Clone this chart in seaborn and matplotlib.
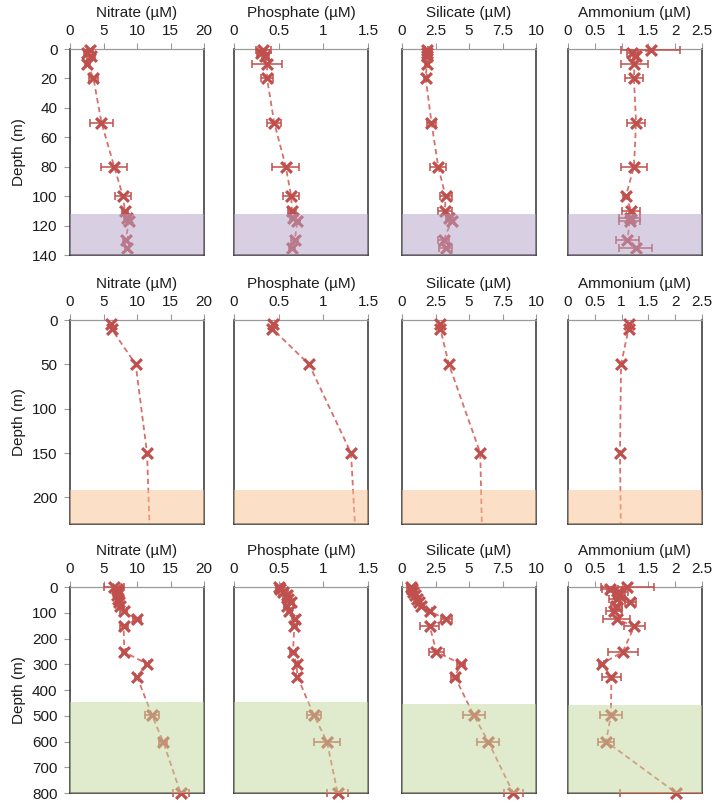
import matplotlib
matplotlib.use("Agg")
import matplotlib.pyplot as plt
from matplotlib.transforms import Bbox, TransformedBbox
import seaborn as sns

# ---------------- data ----------------
NUTRIENTS = ["Nitrate (µM)", "Phosphate (µM)", "Silicate (µM)", "Ammonium (µM)"]
X_MAX = [20, 1.5, 10, 2.5]
X_TICKS = [[0, 5, 10, 15, 20], [0, 0.5, 1, 1.5], [0, 2.5, 5, 7.5, 10],
           [0, 0.5, 1, 1.5, 2, 2.5]]
X_TICKLABELS = [["0", "5", "10", "15", "20"], ["0", "0.5", "1", "1.5"],
                ["0", "2.5", "5", "7.5", "10"], ["0", "0.5", "1", "1.5", "2", "2.5"]]

# Station 1 (top row)
S1_DEPTH = [1, 3, 5, 10, 20, 50, 80, 100, 110, 115, 117, 130, 135]
S1_NITRATE = [3.0, 2.5, 3.2, 2.6, 3.5, 4.7, 6.6, 7.9, 8.2, 8.5, 8.8, 8.3, 8.5]
S1_NITRATE_ERR = [0.5, 0.4, 0.6, 0.4, 0.7, 1.7, 1.9, 1.2, 0.5, 0.4, 0.3, 0.4, 0.3]
S1_PHOSPHATE = [0.33, 0.30, 0.35, 0.37, 0.37, 0.45, 0.58, 0.64, 0.65, 0.66, 0.71, 0.68, 0.65]
S1_PHOSPHATE_ERR = [0.08, 0.04, 0.04, 0.17, 0.07, 0.08, 0.15, 0.09, 0.04, 0.03, 0.03, 0.04, 0.03]
S1_SILICATE = [1.85, 1.9, 1.85, 1.85, 1.77, 2.2, 2.7, 3.25, 3.2, 3.5, 3.7, 3.1, 3.25]
S1_SILICATE_ERR = [0.1, 0.1, 0.1, 0.1, 0.1, 0.35, 0.6, 0.45, 0.5, 0.2, 0.2, 0.4, 0.5]
S1_AMMONIUM = [1.54, 1.2, 1.26, 1.24, 1.23, 1.27, 1.23, 1.08, 1.18, 1.15, 1.15, 1.11, 1.26]
S1_AMMONIUM_ERR = [0.55, 0.1, 0.05, 0.25, 0.17, 0.17, 0.24, 0.05, 0.17, 0.2, 0.2, 0.22, 0.31]
S1_BAND_TOP = 112

# Station 2 (middle row)
S2_DEPTH = [5, 10, 50, 150]
S2_NITRATE = [6.1, 6.2, 9.8, 11.5]
S2_PHOSPHATE = [0.44, 0.43, 0.84, 1.31]
S2_SILICATE = [2.86, 2.86, 3.5, 5.84]
S2_AMMONIUM = [1.13, 1.13, 0.99, 0.97]
S2_DEEP_DEPTH = 260
S2_DEEP = [12.0, 1.37, 6.0, 0.99]
S2_BAND_TOP = 192

# Station 3 (bottom row)
S3_DEPTH = [0, 6, 19, 32, 45, 58, 75, 94, 126, 152, 252, 299, 348, 499, 600, 800]
S3_NITRATE = [6.5, 7.0, 7.1, 7.0, 7.2, 7.25, 7.5, 8.0, 10.0, 8.0, 8.1, 11.5, 10.0, 12.25, 13.9, 16.5]
S3_NITRATE_ERR = [1.5, 0.5, 0.4, 0.3, 0.3, 0.4, 0.4, 0.5, 0.6, 0.6, 0.3, 0.3, 0.3, 1.0, 0.6, 1.2]
S3_PHOSPHATE = [0.50, 0.515, 0.55, 0.59, 0.60, 0.64, 0.59, 0.62, 0.68, 0.675, 0.66, 0.70, 0.71, 0.895, 1.04, 1.16]
S3_PHOSPHATE_ERR = [0.03, 0.05, 0.05, 0.04, 0.03, 0.03, 0.03, 0.03, 0.03, 0.03, 0.03, 0.02, 0.02, 0.08, 0.15, 0.12]
S3_SILICATE = [0.7, 0.75, 0.82, 0.95, 1.1, 1.25, 1.45, 2.07, 3.3, 2.07, 2.57, 4.4, 3.94, 5.36, 6.43, 8.3]
S3_SILICATE_ERR = [0.3, 0.2, 0.2, 0.2, 0.2, 0.2, 0.2, 0.2, 0.4, 0.7, 0.55, 0.3, 0.3, 0.8, 0.8, 0.7]
S3_AMMONIUM = [1.11, 0.79, 0.925, 0.96, 0.91, 1.16, 0.90, 0.86, 0.91, 1.24, 1.02, 0.625, 0.81, 0.80, 0.71, 2.02]
S3_AMMONIUM_ERR = [0.5, 0.15, 0.2, 0.1, 0.15, 0.1, 0.1, 0.15, 0.25, 0.2, 0.28, 0.05, 0.18, 0.2, 0.15, 1.05]
S3_BAND_TOP = [448, 448, 454, 458]

Y_LIMITS = [140, 230, 800]
Y_TICKS = [list(range(0, 141, 20)), list(range(0, 201, 50)), list(range(0, 801, 100))]
BAND_COLORS = ["#b3a2c7", "#fac090", "#c3d69b"]

# ---------------- style ----------------
sns.set_theme(style="white")
plt.rcParams["font.family"] = ["Liberation Sans", "DejaVu Sans"]
TEXT = "#1c1c1c"
RED = "#c0504d"
LINE_RED = "#d8706c"
FS = 11

W, H = 717, 805
fig = plt.figure(figsize=(W / 100, H / 100), dpi=100)

col_left = [70, 234, 402, 568]
col_w = 134
row_top = [49, 320, 587]
row_h = [206, 204, 206]

rows = [
    dict(depth=S1_DEPTH,
         vals=[S1_NITRATE, S1_PHOSPHATE, S1_SILICATE, S1_AMMONIUM],
         errs=[S1_NITRATE_ERR, S1_PHOSPHATE_ERR, S1_SILICATE_ERR, S1_AMMONIUM_ERR],
         band=[S1_BAND_TOP] * 4, line_depth=S1_DEPTH, line_vals=None),
    dict(depth=S2_DEPTH,
         vals=[S2_NITRATE, S2_PHOSPHATE, S2_SILICATE, S2_AMMONIUM],
         errs=None, band=[S2_BAND_TOP] * 4,
         line_depth=S2_DEPTH + [S2_DEEP_DEPTH],
         line_vals=[S2_NITRATE + [S2_DEEP[0]], S2_PHOSPHATE + [S2_DEEP[1]],
                    S2_SILICATE + [S2_DEEP[2]], S2_AMMONIUM + [S2_DEEP[3]]]),
    dict(depth=S3_DEPTH,
         vals=[S3_NITRATE, S3_PHOSPHATE, S3_SILICATE, S3_AMMONIUM],
         errs=[S3_NITRATE_ERR, S3_PHOSPHATE_ERR, S3_SILICATE_ERR, S3_AMMONIUM_ERR],
         band=S3_BAND_TOP, line_depth=S3_DEPTH, line_vals=None),
]

for r, row in enumerate(rows):
    for c in range(4):
        ax = fig.add_axes([col_left[c] / W, 1 - (row_top[r] + row_h[r]) / H,
                           col_w / W, row_h[r] / H])
        depth = row["depth"]
        vals = row["vals"][c]
        ldepth = row["line_depth"]
        lvals = row["line_vals"][c] if row["line_vals"] is not None else vals

        sns.lineplot(x=lvals, y=ldepth, ax=ax, sort=False, estimator=None,
                     color=LINE_RED, linewidth=1.3, linestyle=(0, (3, 2)), zorder=2)
        if row["errs"] is not None:
            eb = ax.errorbar(vals, depth, xerr=row["errs"][c], fmt="none", ecolor=RED,
                             elinewidth=1.1, capsize=3, capthick=1.1, zorder=3)
            clip = TransformedBbox(Bbox([[0, -0.08], [1, 1.08]]), ax.transAxes)
            for art in eb.get_children():
                art.set_clip_on(True)
                art.set_clip_box(clip)
        sns.scatterplot(x=vals, y=depth, ax=ax, marker="x", color=RED, s=60,
                        linewidth=2.3, zorder=4, clip_on=False)

        ax.axhspan(row["band"][c], Y_LIMITS[r], color=BAND_COLORS[r], alpha=0.5,
                   lw=0, zorder=5)

        ax.set_xlim(0, X_MAX[c])
        ax.set_ylim(Y_LIMITS[r], 0)
        ax.xaxis.tick_top()
        ax.xaxis.set_label_position("top")
        ax.set_xticks(X_TICKS[c])
        ax.set_xticklabels(X_TICKLABELS[c])
        ax.set_xlabel(NUTRIENTS[c], fontsize=FS, color=TEXT, labelpad=5)
        ax.tick_params(axis="x", top=True, bottom=False, direction="out", length=4,
                       width=0.8, color="#9a9a9a", labelsize=FS, labelcolor=TEXT, pad=4)
        ax.set_yticks(Y_TICKS[r])
        if c == 0:
            ax.tick_params(axis="y", left=True, direction="out", length=4, width=0.8,
                           color="#9a9a9a", labelsize=FS, labelcolor=TEXT, pad=5)
            ax.set_ylabel("Depth (m)", fontsize=FS, color=TEXT, labelpad=4)
        else:
            ax.tick_params(axis="y", left=False, labelleft=False)
            ax.set_ylabel("")
        for side in ["left", "right", "bottom"]:
            ax.spines[side].set_color("#303030")
            ax.spines[side].set_linewidth(1.1)
            ax.spines[side].set_visible(True)
        ax.spines["top"].set_color("#9a9a9a")
        ax.spines["top"].set_linewidth(0.9)
        ax.spines["top"].set_visible(True)
        ax.set_facecolor("white")
        ax.grid(False)

fig.savefig("out.png", dpi=100, facecolor="white")
